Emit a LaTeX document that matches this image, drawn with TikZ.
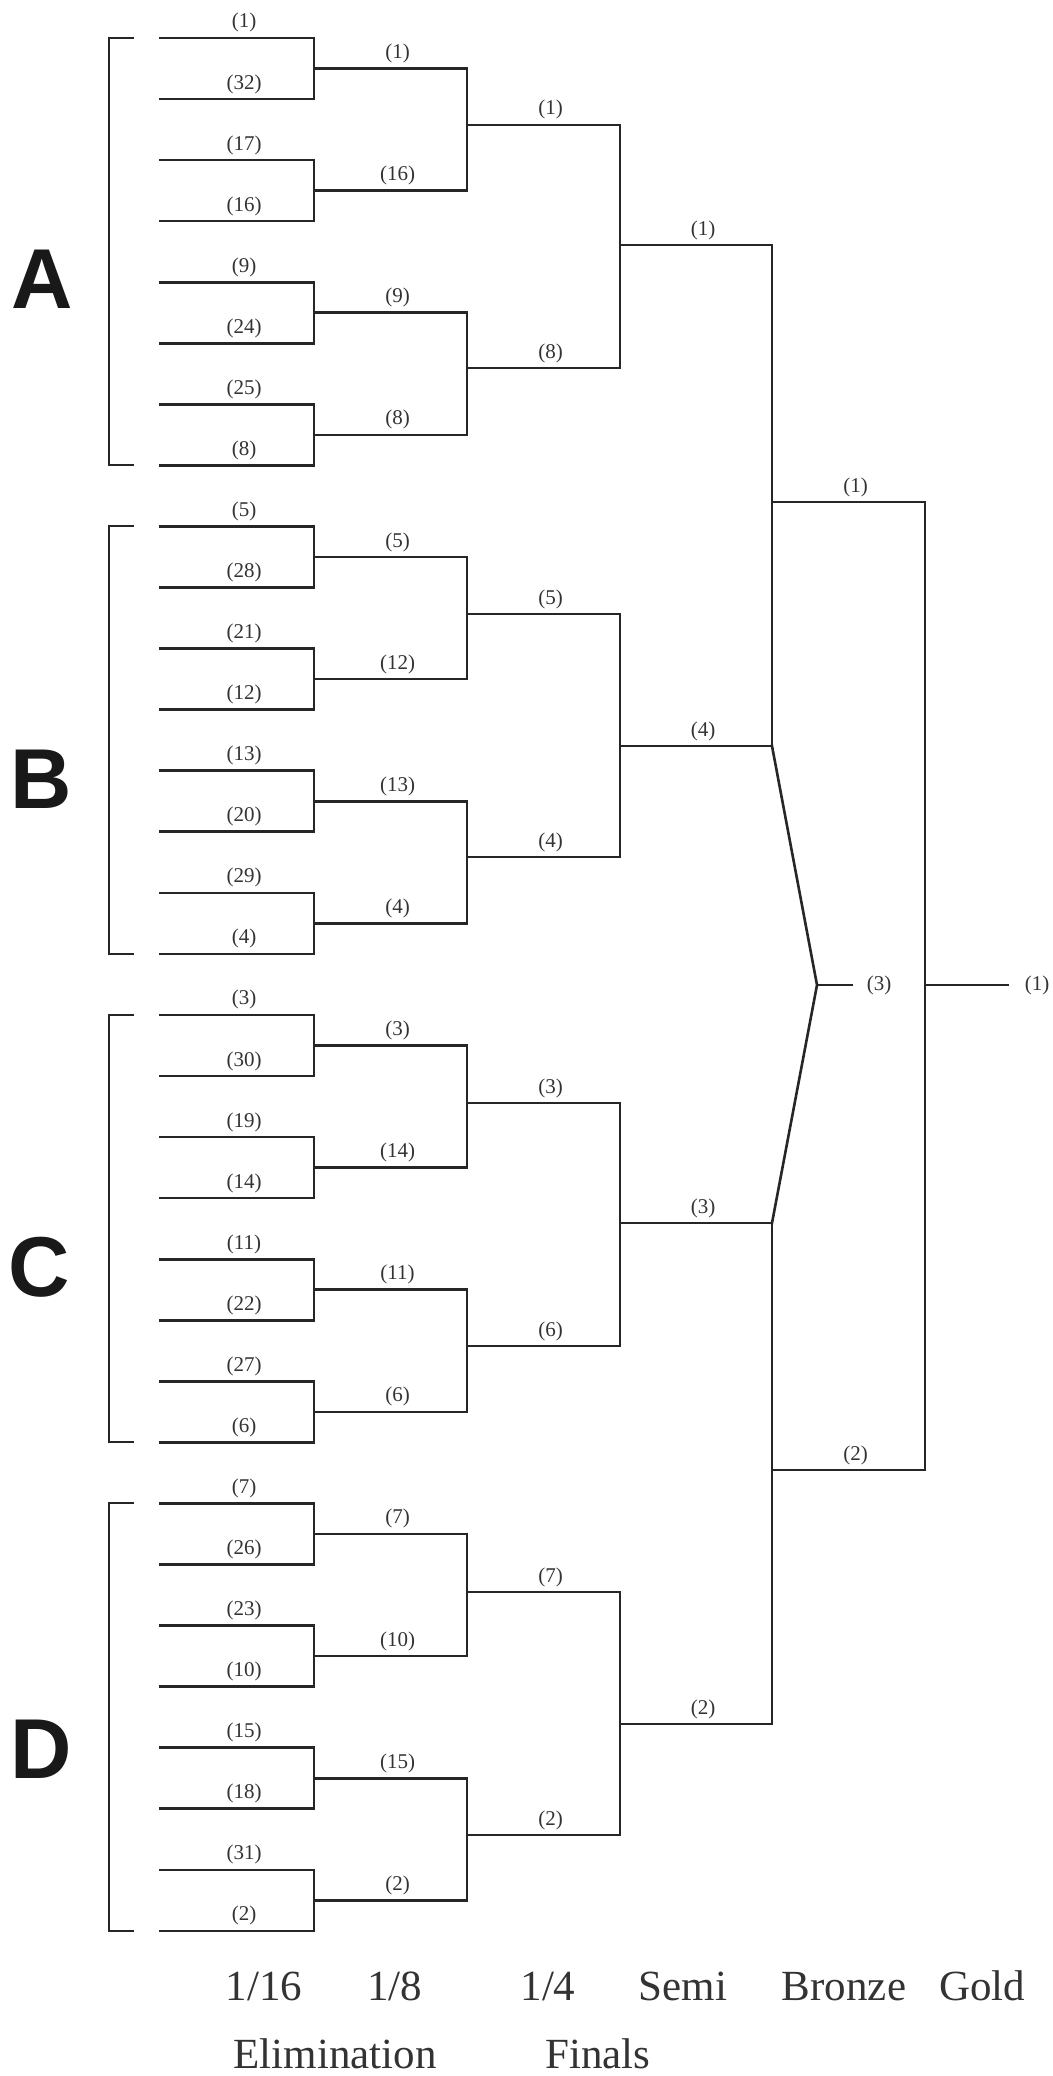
\documentclass[tikz,border=0pt]{standalone}
\usepackage{fontspec}
\setmainfont{Liberation Serif}
\newfontfamily\poolfont{Liberation Sans}
\usetikzlibrary{calc}
\tikzset{
bracket/.style={x=0.5pt,y=-0.5pt,line width=1.3pt,line cap=rect,draw=black!85},
seed/.style={font=\fontsize{10.5}{12}\selectfont,anchor=base,inner sep=0pt,text=black!80},
stage/.style={font=\fontsize{21.5}{24}\selectfont,anchor=base,inner sep=0pt,text=black!80},
pool/.style={font=\poolfont\bfseries\fontsize{42.5}{48}\selectfont,anchor=base,inner sep=0pt,text=black!90},
side/.style={line width=1pt,line cap=butt},
}

\begin{document}
\begin{tikzpicture}[bracket]
\useasboundingbox (0,0) rectangle (1053,2076);
% 1/16
\foreach \s [count=\k from 0] in {1,32,17,16,9,24,25,8,5,28,21,12,13,20,29,4,3,30,19,14,11,22,27,6,7,26,23,10,15,18,31,2} {
  \coordinate (a\k) at (160,38+61.06*\k);
  \coordinate (b\k) at (314,38+61.06*\k);
  \draw (a\k) -- (b\k);
  \node[seed] (n\k) at ($(a\k)!0.5!(b\k)+(7,-10)$) {(\s)};
}
% 1/8
\foreach \s [count=\i from 0] in {1,16,9,8,5,12,13,4,3,14,11,6,7,10,15,2} {
  \pgfmathtruncatemacro\u{2*\i}
  \pgfmathtruncatemacro\v{2*\i+1}
  \draw (b\u) -- (b\v);
  \coordinate (c\i) at ($(b\u)!0.5!(b\v)$);
  \coordinate (d\i) at ($(c\i)+(153,0)$);
  \draw (c\i) -- (d\i);
  \node[seed] (m\i) at ($(c\i)!0.5!(d\i)+(7,-10)$) {(\s)};
}
% 1/4
\foreach \s/\y [count=\i from 0] in {1/125,8/368,5/614,4/857,3/1103,6/1346,7/1592,2/1835} {
  \pgfmathtruncatemacro\u{2*\i}
  \pgfmathtruncatemacro\v{2*\i+1}
  \draw (d\u) -- (d\v);
  \coordinate (e\i) at (467,\y);
  \coordinate (f\i) at (620,\y);
  \draw (e\i) -- (f\i);
  \node[seed] (q\i) at ($(e\i)!0.5!(f\i)+(7,-10)$) {(\s)};
}
% semi
\foreach \s/\y [count=\i from 0] in {1/245,4/746,3/1223,2/1724} {
  \pgfmathtruncatemacro\u{2*\i}
  \pgfmathtruncatemacro\v{2*\i+1}
  \draw (f\u) -- (f\v);
  \coordinate (g\i) at (620,\y);
  \coordinate (h\i) at (772,\y);
  \draw (g\i) -- (h\i);
  \node[seed] (sf\i) at ($(g\i)!0.5!(h\i)+(7,-10)$) {(\s)};
}
% final
\coordinate (p1) at (772,502);
\coordinate (p2) at (772,1470);
\coordinate (t1) at (925,502);
\coordinate (t2) at (925,1470);
\draw (h0) -- (h1);
\draw (h2) -- (h3);
\draw (p1) -- (t1);
\draw (p2) -- (t2);
\node[seed] (fa) at ($(p1)!0.5!(t1)+(7,-10)$) {(1)};
\node[seed] (fb) at ($(p2)!0.5!(t2)+(7,-10)$) {(2)};
% bronze
\coordinate (br) at (817,985);
\coordinate (brx) at (852,985);
\draw (h1) -- (br) -- (h2);
\draw (br) -- (brx);
\node[seed] (third) at (879,990) {(3)};
% gold
\coordinate (gd) at (925,985);
\coordinate (gdx) at (1008,985);
\draw (t1) -- (t2);
\draw (gd) -- (gdx);
\node[seed] (first) at (1037,990) {(1)};
% groups
\foreach \t/\b in {0/7,8/15,16/23,24/31}
  \draw[side] ($(a\t)+(-26,0)$) -- ++(-25,0) |- ($(a\b)+(-26,0)$);
\node[pool] (A) at (42,308) {A};
\node[pool] (B) at (41,808) {B};
\node[pool] (C) at (39,1296) {C};
\node[pool] (D) at (41,1778) {D};
% stages
\node[stage] (r16) at (264,2000) {1/16};
\node[stage] (r8) at (394.5,2000) {1/8};
\node[stage] (r4) at (548,2000) {1/4};
\node[stage] (semi) at (683,2000) {Semi};
\node[stage] (bronze) at (844,2000) {Bronze};
\node[stage] (gold) at (982,2000) {Gold};
\node[stage] (elim) at (335,2068) {Elimination};
\node[stage] (fin) at (598,2068) {Finals};
\end{tikzpicture}
\end{document}
